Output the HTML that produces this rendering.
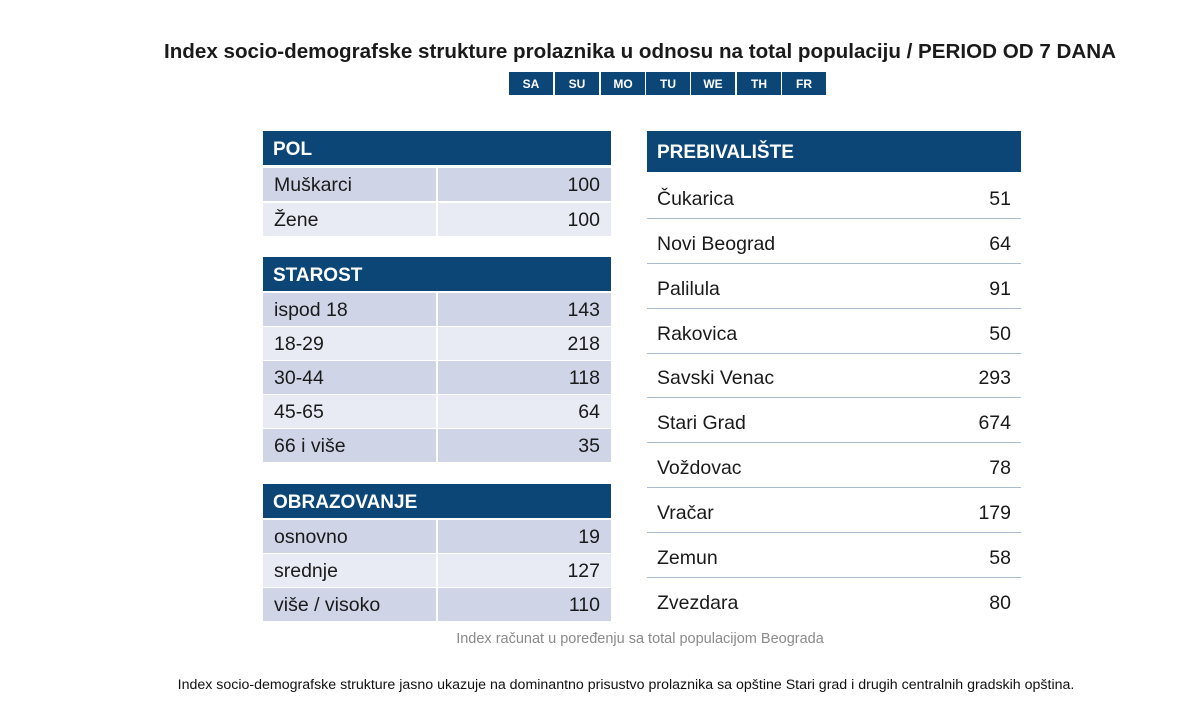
<!DOCTYPE html>
<html><head><meta charset="utf-8"><style>
body{margin:0;width:1185px;height:720px;background:#fff;position:relative;overflow:hidden;font-family:"Liberation Sans",sans-serif;color:#1a1a1a}
.a{position:absolute}
.h{position:absolute;background:#0c4677;color:#fff;font-weight:bold;font-size:19px;box-sizing:border-box;padding-left:10px;padding-top:3px;display:flex;align-items:center}
.r{position:absolute;left:263px;width:348px;height:33px;font-size:19.5px}
.r .l{position:absolute;left:0;top:0;width:173px;height:33px;line-height:35px;padding-left:11px;box-sizing:border-box}
.r .v{position:absolute;left:175px;top:0;width:173px;height:33px;line-height:35px;text-align:right;padding-right:11px;box-sizing:border-box}
.d .l,.d .v{background:#cfd5e7}.w .l,.w .v{background:#e8ebf4}
.p{position:absolute;left:647px;width:374px;height:44px;border-bottom:1.5px solid #a9bccd;font-size:19.5px}
.p span{position:absolute;top:14px}
.p .n{left:10px}.p .m{right:10px}
.day{position:absolute;top:72px;width:44px;height:23px;background:#0c4677;color:#fff;font-size:12px;font-weight:bold;text-align:center;line-height:24px}
</style></head><body>
<div class="a" style="left:0;width:1280px;top:40px;text-align:center;font-weight:bold;font-size:20.6px">Index socio-demografske strukture prolaznika u odnosu na total populaciju / PERIOD OD 7 DANA</div>
<div class="day" style="left:509px">SA</div><div class="day" style="left:555px">SU</div><div class="day" style="left:601px">MO</div><div class="day" style="left:646px">TU</div><div class="day" style="left:691px">WE</div><div class="day" style="left:737px">TH</div><div class="day" style="left:782px">FR</div>

<div class="h" style="left:263px;top:131px;width:348px;height:34px">POL</div>
<div class="r d" style="top:168px"><div class="l">Muškarci</div><div class="v">100</div></div>
<div class="r w" style="top:203px"><div class="l">Žene</div><div class="v">100</div></div>

<div class="h" style="left:263px;top:257px;width:348px;height:34px">STAROST</div>
<div class="r d" style="top:293px"><div class="l">ispod 18</div><div class="v">143</div></div>
<div class="r w" style="top:327px"><div class="l">18-29</div><div class="v">218</div></div>
<div class="r d" style="top:361px"><div class="l">30-44</div><div class="v">118</div></div>
<div class="r w" style="top:395px"><div class="l">45-65</div><div class="v">64</div></div>
<div class="r d" style="top:429px"><div class="l">66 i više</div><div class="v">35</div></div>

<div class="h" style="left:263px;top:484px;width:348px;height:34px">OBRAZOVANJE</div>
<div class="r d" style="top:520px"><div class="l">osnovno</div><div class="v">19</div></div>
<div class="r w" style="top:554px"><div class="l">srednje</div><div class="v">127</div></div>
<div class="r d" style="top:588px"><div class="l">više / visoko</div><div class="v">110</div></div>

<div class="h" style="left:647px;top:131px;width:374px;height:41px">PREBIVALIŠTE</div>
<div class="p" style="top:174px"><span class="n">Čukarica</span><span class="m">51</span></div>
<div class="p" style="top:219px"><span class="n">Novi Beograd</span><span class="m">64</span></div>
<div class="p" style="top:264px"><span class="n">Palilula</span><span class="m">91</span></div>
<div class="p" style="top:309px"><span class="n">Rakovica</span><span class="m">50</span></div>
<div class="p" style="top:353px"><span class="n">Savski Venac</span><span class="m">293</span></div>
<div class="p" style="top:398px"><span class="n">Stari Grad</span><span class="m">674</span></div>
<div class="p" style="top:443px"><span class="n">Voždovac</span><span class="m">78</span></div>
<div class="p" style="top:488px"><span class="n">Vračar</span><span class="m">179</span></div>
<div class="p" style="top:533px"><span class="n">Zemun</span><span class="m">58</span></div>
<div class="p" style="top:578px;border-bottom:none"><span class="n">Zvezdara</span><span class="m">80</span></div>

<div class="a" style="left:440px;width:400px;top:631px;text-align:center;font-size:14.5px;color:#8a8a8a">Index računat u poređenju sa total populacijom Beograda</div>
<div class="a" style="left:0;width:1252px;top:677px;text-align:center;font-size:14.2px;color:#111">Index socio-demografske strukture jasno ukazuje na dominantno prisustvo prolaznika sa opštine Stari grad i drugih centralnih gradskih opština.</div>
</body></html>
